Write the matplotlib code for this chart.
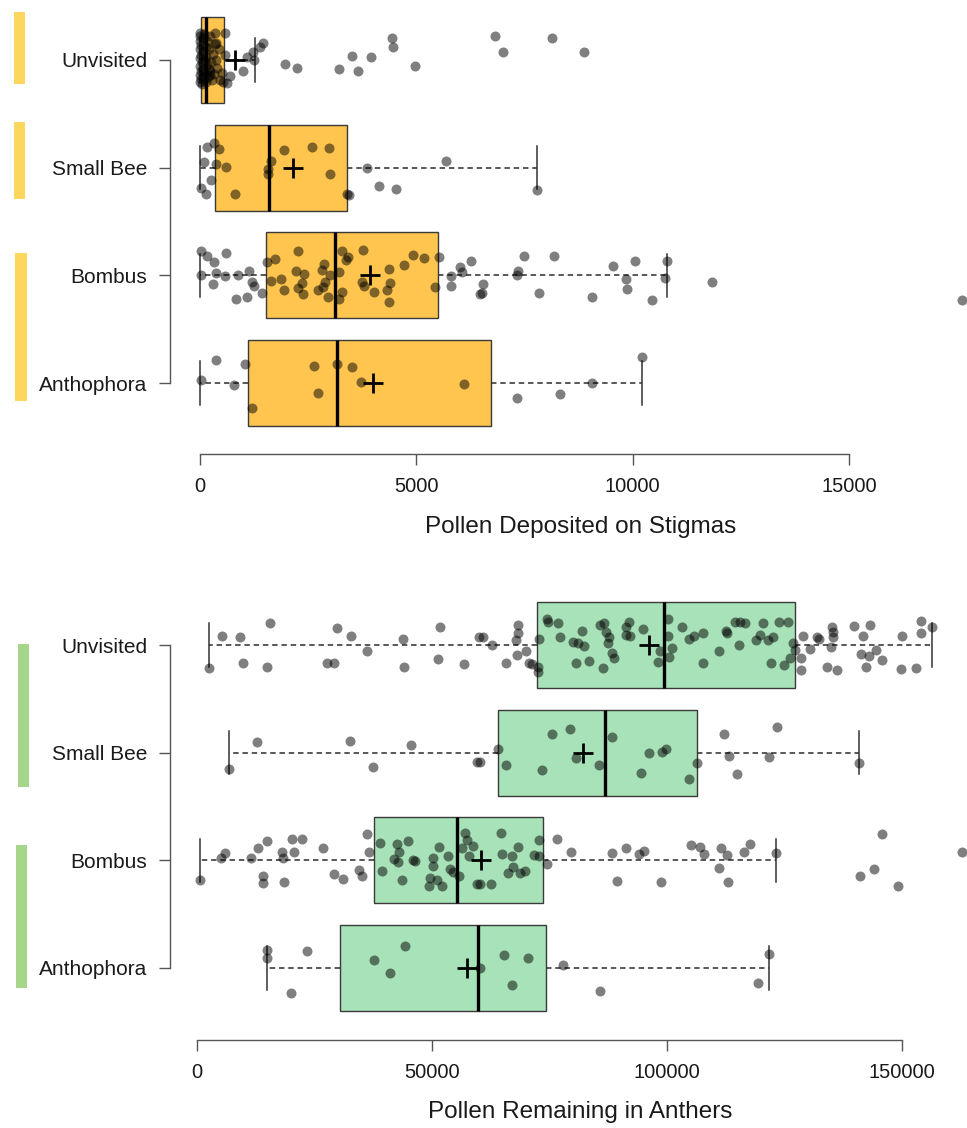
import matplotlib
matplotlib.use("Agg")
import matplotlib.pyplot as plt
from matplotlib.patches import Rectangle

plt.rcParams['font.family'] = ['Liberation Sans', 'DejaVu Sans']

groups = ["Unvisited", "Small Bee", "Bombus", "Anthophora"]

# box stats: whislo, q1, median, q3, whishi, mean
stig_stats = [
    [0, 23, 140, 555, 1270, 810],
    [0, 347, 1595, 3397, 7788, 2150],
    [0, 1525, 3120, 5500, 10790, 3930],
    [0, 1100, 3170, 6725, 10215, 4000],
]
anth_stats = [
    [2620, 72370, 99320, 127240, 156250, 96200],
    [6740, 63950, 86840, 106270, 140720, 82160],
    [640, 37640, 55230, 73590, 123140, 60400],
    [14950, 30410, 59830, 74150, 121650, 57360],
]

# raw points (value) and their vertical jitter (in row units)
stig_unv = [0, 0, 0, 0, 0, 0, 0, 10, 15, 20, 25, 30, 40, 50, 60, 70, 80, 90, 100, 110,
            120, 130, 140, 150, 160, 170, 180, 200, 220, 240, 260, 280, 300, 330, 360, 400,
            430, 500, 540, 580, 370, 208, 231,
            578, 347, 347, 1456, 1387, 1225, 1086, 1248, 994, 693, 624, 462, 1964, 2242,
            3212, 3513, 3651, 3952, 4437, 4460, 4969, 6818, 7003, 8135, 8875]
stig_unv_j = [-0.25, -0.18, -0.10, -0.02, 0.06, 0.14, 0.20, -0.22, 0.10, -0.05, 0.18, -0.14,
              0.02, 0.22, -0.20, 0.08, -0.08, 0.15, -0.24, 0.00, 0.12, -0.12, 0.20, -0.03,
              0.05, -0.18, 0.16, -0.10, 0.10, -0.22, 0.02, 0.19, -0.06, 0.13, -0.16, 0.07,
              -0.10, 0.12, 0.20, -0.05, 0.0, 0.08, 0.14,
              -0.25, -0.25, -0.15, -0.16, -0.12, -0.07, -0.03, 0.0, 0.10, 0.15, 0.21, 0.19,
              0.04, 0.07, 0.08, -0.04, 0.10, -0.03, -0.20, -0.12, 0.06, -0.22, -0.07, -0.20, -0.07]

stig_small = [324, 162, 439, 92, 370, 601, 254, 23, 139, 809, 1941, 2588, 2981, 1641, 1571,
              1571, 3004, 3397, 3443, 3859, 4137, 4530, 5685, 7788]
stig_small_j = [-0.23, -0.19, -0.17, -0.05, -0.03, -0.01, 0.11, 0.19, 0.24, 0.24, -0.16, -0.19,
                -0.18, -0.06, 0.01, 0.06, 0.06, 0.24, 0.25, 0.0, 0.17, 0.20, -0.06, 0.21]

stig_bomb = [23, 162, 601, 324, 23, 370, 578, 878, 1132, 300, 1202, 1248, 1433, 1086, 832,
             1548, 1733, 2265, 2219, 1872, 1641, 2403, 2357, 1941, 2265, 2380, 2866, 2819,
             3004, 2889, 2843, 2727, 2958, 3282, 3374, 3420, 3212, 3282, 3212, 3767, 3744,
             3790, 4021, 4368, 4391, 4322, 4368, 4715, 4922, 5177, 5523, 5431, 5801, 5801,
             6009, 6055, 6263, 6471, 7488, 8181, 7349, 7326, 6540, 6517, 7834, 9059, 9545,
             9845, 9868, 10053, 10446, 10793, 10746, 11832, 17610]
stig_bomb_j = [-0.23, -0.18, -0.21, -0.12, 0.0, -0.02, 0.01, 0.0, -0.04, 0.08, 0.06, 0.10,
               0.16, 0.20, 0.22, -0.12, -0.15, -0.23, -0.04, 0.03, 0.05, -0.01, 0.07, 0.14,
               0.12, 0.17, -0.11, -0.05, 0.0, 0.06, 0.11, 0.14, 0.20, -0.23, -0.14, -0.17,
               -0.03, 0.15, 0.22, -0.24, 0.06, 0.10, 0.15, -0.06, 0.07, 0.14, 0.25, -0.10,
               -0.19, -0.16, -0.17, 0.11, 0.01, 0.10, -0.08, -0.03, -0.13, 0.17, -0.18, -0.18,
               -0.04, 0.0, 0.08, 0.16, 0.16, 0.20, -0.09, 0.03, 0.13, -0.13, 0.23, -0.13, 0.02,
               0.06, 0.23]

stig_anth = [370, 1040, 23, 786, 1202, 2634, 2727, 3166, 3513, 3721, 6101, 10215, 9059, 8320, 7326]
stig_anth_j = [-0.21, -0.18, -0.03, 0.02, 0.23, -0.16, 0.09, -0.18, -0.15, -0.01, 0.01, -0.24,
               0.0, 0.10, 0.14]

anth_unv = [2552, 5318, 9146, 15530, 9784, 14890, 29780, 32760, 27650, 29140, 36160, 43820,
            44030, 51690, 51260, 56790, 59980, 60830, 62750, 68280, 68280, 67850, 68060, 69980,
            65720, 70610, 71250, 72530, 72530, 72740, 74440, 74650, 76780, 77210, 79980, 81040,
            82320, 81890, 80610, 83380, 86360, 85720, 86570, 87000, 87640, 87420, 88270, 88700,
            91250, 91250, 91890, 92100, 94870, 98480, 98050, 100200, 100200, 100400, 101000,
            103200, 104600, 105700, 107600, 107600, 111000, 112500, 112700, 114400, 115500,
            116600, 115300, 118900, 119700, 120400, 121500, 122500, 122100, 123800, 125700,
            124900, 126100, 126800, 127200, 128500, 128500, 128900, 130400, 131900, 132300,
            134000, 134900, 135100, 135300, 135300, 136100, 139700, 141700, 141200, 142900,
            143100, 144400, 142300, 145700, 150000, 149700, 152900, 154000, 154000, 156300]
anth_unv_j = [0.21, -0.08, -0.07, -0.20, 0.17, 0.20, -0.16, -0.08, 0.17, 0.17, 0.06, -0.06,
              0.20, -0.17, 0.13, 0.18, -0.07, -0.07, 0.0, -0.19, -0.11, -0.05, 0.09, 0.06,
              0.17, 0.17, 0.18, 0.20, 0.25, -0.06, -0.24, -0.21, -0.20, -0.07, -0.03, -0.02,
              0.01, -0.13, 0.17, 0.15, 0.21, -0.19, -0.20, -0.12, -0.07, -0.02, 0.07, 0.12,
              -0.17, -0.09, -0.21, -0.08, -0.15, 0.06, 0.16, -0.24, -0.08, 0.11, 0.03,
              -0.17, -0.06, -0.08, -0.11, 0.17, 0.06, -0.13, -0.11, -0.21, -0.21,
              -0.20, 0.0, -0.05, -0.09, -0.20, -0.05, -0.07, 0.17, -0.21, -0.21,
              0.19, 0.12, -0.02, 0.05, 0.12, 0.23, -0.08, 0.04, -0.07, -0.06,
              0.20, 0.02, -0.17, -0.12, -0.07, 0.23, -0.18, -0.08, 0.08, 0.10,
              -0.19, 0.05, 0.20, 0.14, -0.08, 0.22, 0.21, -0.22, -0.11, -0.17]

anth_small = [6806, 12760, 32540, 37440, 45520, 59560, 60200, 64020, 65720, 73380, 75510,
              79340, 80610, 85510, 88270, 94440, 96140, 98910, 99760, 104600, 106300, 112100,
              113200, 114900, 121700, 123400, 140800]
anth_small_j = [0.15, -0.10, -0.11, 0.13, -0.07, 0.09, 0.09, -0.03, 0.11, 0.16, -0.17, -0.22,
                0.05, 0.11, -0.15, 0.19, 0.0, -0.01, -0.03, 0.24, 0.10, -0.17, 0.03, 0.20,
                0.04, -0.24, 0.10]

anth_bomb = [640, 5100, 5960, 11490, 12970, 14890, 14040, 14040, 18080, 18290, 18500, 20210,
             22330, 20630, 26800, 29140, 31050, 34460, 35100, 36160, 36580, 38920, 39350,
             42540, 42970, 41900, 42750, 44880, 45940, 46370, 43600, 49560, 49350, 50200,
             50200, 51470, 51050, 52110, 53390, 53810, 54450, 55730, 57000, 57430, 56370,
             57850, 58710, 59560, 60200, 62530, 64660, 64870, 67000, 68280, 67210, 66150,
             68700, 69770, 71680, 72740, 72740, 74440, 76570, 79550, 88270, 91250, 94010,
             95080, 89340, 98690, 105100, 107000, 107800, 111500, 112700, 111000, 112900,
             116300, 117600, 123200, 145700, 144000, 141000, 149100, 162700]
anth_bomb_j = [0.18, -0.02, -0.07, -0.02, -0.11, -0.18, 0.21, 0.15, -0.08, -0.02, 0.20, -0.20,
               -0.20, -0.08, -0.11, 0.13, 0.17, 0.09, 0.15, -0.24, -0.08, -0.16, 0.10, -0.15,
               -0.08, -0.01, 0.02, -0.18, 0.0, 0.01, 0.18, 0.16, 0.24, -0.02, 0.05, -0.12,
               0.18, 0.24, -0.04, 0.08, 0.11, 0.15, -0.25, -0.19, -0.11, -0.04, -0.13, 0.22,
               0.22, 0.22, -0.25, -0.06, -0.04, -0.12, 0.06, 0.12, 0.12, 0.10, -0.05, -0.19,
               -0.04, 0.03, -0.20, -0.08, -0.07, -0.11, -0.06, -0.09, 0.19, 0.20, -0.14,
               -0.12, -0.06, -0.11, -0.05, 0.07, 0.20, -0.08, -0.15, -0.07, -0.24, 0.08,
               0.15, 0.24, -0.08]

anth_anth = [14890, 14890, 23400, 19990, 37650, 41050, 44240, 60200, 65300, 70400, 67000,
             77850, 85720, 119300, 121700]
anth_anth_j = [-0.17, -0.09, -0.16, 0.23, -0.07, 0.05, -0.20, 0.0, -0.12, -0.09, 0.16, -0.03,
               0.21, 0.14, -0.13]

W, H = 967, 1128
fig = plt.figure(figsize=(W / 100, H / 100), dpi=100)


def px_box(x0, y0, x1, y1):
    # pixel box (y from top) -> figure fraction rect
    return [x0 / W, 1 - y1 / H, (x1 - x0) / W, (y1 - y0) / H]


AXC = '#555555'


def panel(ax, stats, pts, face, xlim, ylim, ticks):
    bx = [dict(label=g, whislo=s[0], q1=s[1], med=s[2], q3=s[3], whishi=s[4],
               mean=s[5], fliers=[]) for g, s in zip(groups, stats)]
    ax.bxp(bx, positions=[1, 2, 3, 4], widths=0.8, capwidths=0.4,
           orientation='horizontal', patch_artist=True, showmeans=True,
           showfliers=False,
           boxprops=dict(facecolor=face, edgecolor='#3a3a3a', linewidth=1),
           medianprops=dict(color='black', linewidth=2.4, solid_capstyle='butt'),
           whiskerprops=dict(color='#333333', linewidth=1.15, linestyle=(0, (3.4, 2.4))),
           capprops=dict(color='#333333', linewidth=1.1),
           meanprops=dict(marker='+', markersize=14, markeredgewidth=2,
                          markeredgecolor='black', zorder=5))
    for i, (vals, jit) in enumerate(pts):
        ys = [i + 1 + j for j in jit]
        ax.plot(vals, ys, 'o', color='black', alpha=0.5, markersize=7.2,
                markeredgewidth=0, clip_on=False, zorder=4)
    ax.set_xlim(*xlim)
    ax.set_ylim(*ylim)
    ax.set_xticks(ticks)
    ax.set_xticklabels([str(t) for t in ticks])
    ax.set_yticks([1, 2, 3, 4])
    ax.set_yticklabels(groups)
    for s in ['top', 'right']:
        ax.spines[s].set_visible(False)
    ax.spines['left'].set_bounds(1, 4)
    ax.spines['bottom'].set_bounds(ticks[0], ticks[-1])
    for s in ['left', 'bottom']:
        ax.spines[s].set_color(AXC)
        ax.spines[s].set_linewidth(1)
    ax.tick_params(axis='y', length=7.9, width=1, color=AXC, pad=8.6,
                   labelsize=15, labelcolor='#1a1a1a')
    ax.tick_params(axis='x', length=7.9, width=1, color=AXC, pad=9,
                   labelsize=14.5, labelcolor='#1a1a1a')
    ax.patch.set_visible(False)


ax1 = fig.add_axes(px_box(170, 0, 967, 454))
panel(ax1, stig_stats,
      [(stig_unv, stig_unv_j), (stig_small, stig_small_j),
       (stig_bomb, stig_bomb_j), (stig_anth, stig_anth_j)],
      '#FFC54F', (-693, 17726), (4.659, 0.443), [0, 5000, 10000, 15000])

ax2 = fig.add_axes(px_box(170, 590, 967, 1040))
panel(ax2, anth_stats,
      [(anth_unv, anth_unv_j), (anth_small, anth_small_j),
       (anth_bomb, anth_bomb_j), (anth_anth, anth_anth_j)],
      '#A8E2B8', (-5742, 163760), (4.669, 0.489), [0, 50000, 100000, 150000])

fig.text(581 / W, 1 - 527 / H, 'Pollen Deposited on Stigmas', ha='center', va='center',
         fontsize=17.5, color='#1a1a1a')
fig.text(580 / W, 1 - 1112 / H, 'Pollen Remaining in Anthers', ha='center', va='center',
         fontsize=17.5, color='#1a1a1a')

# grouping bars on the left
for (x0, y0, x1, y1) in [(14, 12, 25, 84), (14, 122, 25, 199), (15, 253, 27, 401)]:
    r = px_box(x0, y0, x1, y1)
    fig.add_artist(Rectangle((r[0], r[1]), r[2], r[3], transform=fig.transFigure,
                             facecolor='#FDD65E', edgecolor='none'))
for (x0, y0, x1, y1) in [(18, 644, 29, 787), (16, 845, 27, 988)]:
    r = px_box(x0, y0, x1, y1)
    fig.add_artist(Rectangle((r[0], r[1]), r[2], r[3], transform=fig.transFigure,
                             facecolor='#A5D68A', edgecolor='none'))

fig.savefig('out.png', dpi=100)
